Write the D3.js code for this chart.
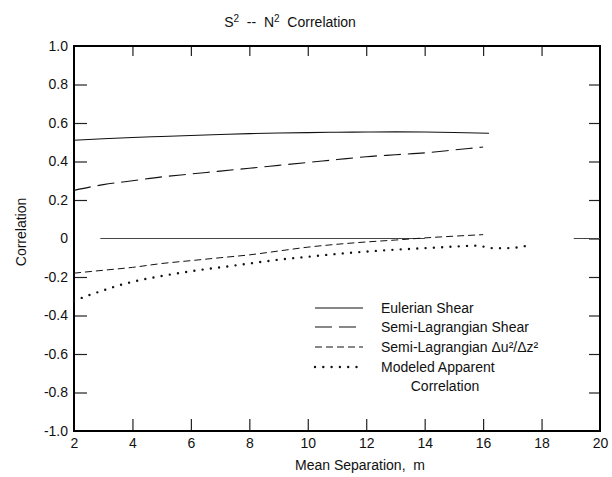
<!DOCTYPE html>
<html>
<head>
<meta charset="utf-8">
<script src="https://cdn.jsdelivr.net/npm/d3@7"></script>
<style>
  body { margin: 0; background: #fff; }
  svg text { font-family: "Liberation Sans", Arial, Helvetica, sans-serif; fill: #111; }
</style>
</head>
<body>
<svg id="chart" width="612" height="477"></svg>
<script>
// Values (x = mean separation in m, y = correlation)
const eulerian = [[2, 0.51], [3, 0.518], [4, 0.525], [5, 0.53], [6, 0.535], [7, 0.54], [8, 0.545], [9, 0.548],
  [10, 0.55], [11, 0.552], [12, 0.553], [13, 0.554], [14, 0.553], [15, 0.551], [16.2, 0.547]];
const semiLagShear = [[2, 0.25], [3, 0.28], [4, 0.3], [5, 0.32], [6, 0.335], [7, 0.35], [8, 0.365], [9, 0.38],
  [10, 0.395], [11, 0.41], [12, 0.425], [13, 0.435], [14, 0.445], [15, 0.46], [16, 0.475]];
const semiLagDu = [[2, -0.18], [3, -0.165], [4, -0.15], [5, -0.13], [6, -0.115], [7, -0.1], [8, -0.085], [9, -0.065],
  [10, -0.045], [11, -0.03], [12, -0.018], [13, -0.008], [14, 0.003], [15, 0.012], [16, 0.02]];
const modeled = [[2, -0.325], [2.5, -0.295], [3, -0.27], [3.5, -0.245], [4, -0.225], [5, -0.195], [6, -0.17],
  [7, -0.15], [8, -0.13], [9, -0.11], [10, -0.095], [11, -0.08], [12, -0.068], [13, -0.058], [14, -0.05],
  [15, -0.042], [15.8, -0.037], [16.3, -0.05], [16.8, -0.05], [17.6, -0.035]];
// zero reference line, only partly visible in the original
const zeroSegments = [[[2.9, 0], [14, 0]], [[19.1, 0], [20, 0]]];

const xTicks = [2, 4, 6, 8, 10, 12, 14, 16, 18, 20];
const yTicks = [1, 0.8, 0.6, 0.4, 0.2, 0, -0.2, -0.4, -0.6, -0.8, -1];

const legendItems = [
  { label: "Eulerian Shear", dash: null, width: 1.1, cap: "butt" },
  { label: "Semi-Lagrangian Shear", dash: "17,7", width: 1.1, cap: "butt" },
  { label: "Semi-Lagrangian \u0394u\u00b2/\u0394z\u00b2", dash: "7,4", width: 1, cap: "butt" },
  { label: "Modeled Apparent", dash: "0,8.3", width: 2.4, cap: "round" }
];

const margin = { top: 46, right: 12, bottom: 46, left: 74 };
const width = 612 - margin.left - margin.right;   // 526
const height = 477 - margin.top - margin.bottom;  // 385

const svg = d3.select("#chart")
  .append("g")
  .attr("transform", `translate(${margin.left}, ${margin.top})`);

const x = d3.scaleLinear().domain([2, 20]).range([0, width]);
const y = d3.scaleLinear().domain([-1, 1]).range([height, 0]);

const fmtY = d => d === 0 ? "0" : (d < 0 ? "-" : "") + Math.abs(d).toFixed(1);

// Left axis, ticks pointing inward
const leftAx = svg.append("g")
  .call(d3.axisLeft(y).tickValues(yTicks).tickSize(-13).tickPadding(6).tickFormat(fmtY));
leftAx.selectAll(".tick text").style("font-size", "14px");
leftAx.selectAll(".tick").filter(d => d === 1 || d === -1 || d === 0).select("line").remove();

// Right axis, ticks only
svg.append("g")
  .attr("transform", `translate(${width}, 0)`)
  .call(d3.axisRight(y).tickValues(yTicks.filter(d => Math.abs(d) !== 1)).tickSize(-11).tickFormat(""));

// Bottom axis, ticks pointing up
const bottomAx = svg.append("g")
  .attr("transform", `translate(0, ${height})`)
  .call(d3.axisBottom(x).tickValues(xTicks).tickSize(-12).tickPadding(6));
bottomAx.selectAll(".tick text").style("font-size", "14px").attr("dy", "0.75em");
bottomAx.selectAll(".tick").filter(d => d === 2 || d === 20).select("line").remove();

// Top axis, ticks only
svg.append("g")
  .call(d3.axisTop(x).tickValues(xTicks.slice(1, -1)).tickSize(-10).tickFormat(""));

svg.selectAll(".domain").remove();
svg.selectAll(".tick line").attr("stroke", "#222").attr("stroke-width", 1.2);

// Frame
svg.append("rect")
  .attr("width", width)
  .attr("height", height)
  .attr("fill", "none")
  .attr("stroke", "#000")
  .attr("stroke-width", 2);

const line = d3.line().x(d => x(d[0])).y(d => y(d[1]));

svg.selectAll(".zero")
  .data(zeroSegments)
  .enter()
  .append("path")
  .attr("class", "zero")
  .attr("d", line)
  .attr("fill", "none")
  .attr("stroke", "#444")
  .attr("stroke-width", 1);

const series = [eulerian, semiLagShear, semiLagDu, modeled];
series.forEach((data, i) => {
  const it = legendItems[i];
  svg.append("path")
    .datum(data)
    .attr("d", line.curve(d3.curveMonotoneX))
    .attr("fill", "none")
    .attr("stroke", "#111")
    .attr("stroke-width", it.width)
    .attr("stroke-linecap", it.cap)
    .attr("stroke-dasharray", it.dash);
});

// Legend
const legendY = [308, 327, 347, 367];
const legend = d3.select("#chart").append("g");
legendItems.forEach((it, i) => {
  legend.append("line")
    .attr("x1", 315).attr("x2", 363)
    .attr("y1", legendY[i]).attr("y2", legendY[i])
    .attr("stroke", "#111")
    .attr("stroke-width", it.width)
    .attr("stroke-linecap", it.cap)
    .attr("stroke-dasharray", it.dash);
  legend.append("text")
    .attr("x", 381)
    .attr("y", legendY[i] + 5)
    .style("font-size", "14px")
    .text(it.label);
});
legend.append("text")
  .attr("x", 445)
  .attr("y", 391)
  .attr("text-anchor", "middle")
  .style("font-size", "14px")
  .text("Correlation");

// Title with superscripts
const title = d3.select("#chart").append("text")
  .attr("x", 290)
  .attr("y", 27)
  .attr("text-anchor", "middle")
  .attr("xml:space", "preserve")
  .style("font-size", "14px");
title.append("tspan").text("S");
title.append("tspan").attr("dy", -5).style("font-size", "10px").text("2");
title.append("tspan").attr("dy", 5).text("  --  N");
title.append("tspan").attr("dy", -5).style("font-size", "10px").text("2");
title.append("tspan").attr("dy", 5).text("  Correlation");

// Axis titles
d3.select("#chart").append("text")
  .attr("x", 360)
  .attr("y", 470)
  .attr("text-anchor", "middle")
  .attr("xml:space", "preserve")
  .style("font-size", "14px")
  .text("Mean Separation,  m");

d3.select("#chart").append("text")
  .attr("transform", "translate(26, 232) rotate(-90)")
  .attr("text-anchor", "middle")
  .style("font-size", "14px")
  .text("Correlation");
</script>
</body>
</html>
